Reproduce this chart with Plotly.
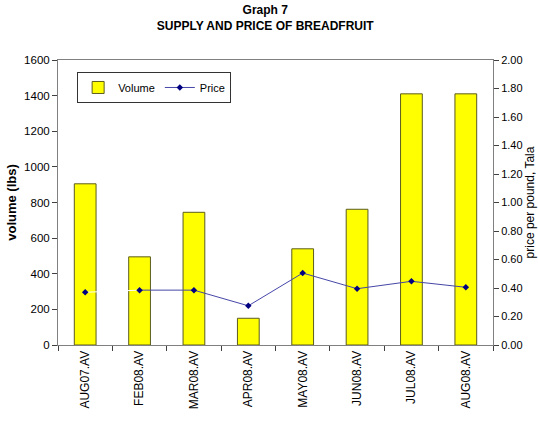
import plotly.graph_objects as go

categories = ["AUG07.AV", "FEB08.AV", "MAR08.AV", "APR08.AV", "MAY08.AV", "JUN08.AV", "JUL08.AV", "AUG08.AV"]
volume = [905, 495, 745, 150, 540, 762, 1410, 1410]
price = [0.37, 0.385, 0.385, 0.275, 0.505, 0.395, 0.447, 0.405]
vol_ticks = list(range(0, 1601, 200))
price_ticks = [i / 5 for i in range(0, 11)]

FONT = "Liberation Sans, Arial, sans-serif"

fig = go.Figure()
fig.add_trace(go.Bar(
    x=categories, y=volume, name="Volume",
    marker=dict(color="#FFFF00", line=dict(color="#5c5c1f", width=1)),
    yaxis="y",
))
# faint first segment (appears white in the original)
fig.add_trace(go.Scatter(
    x=categories[:2], y=price[:2], mode="lines",
    line=dict(color="#ffffff", width=1), showlegend=False, hoverinfo="skip",
    yaxis="y2",
))
fig.add_trace(go.Scatter(
    x=categories[1:], y=price[1:], mode="lines+markers", name="Price",
    line=dict(color="#4646a8", width=1),
    marker=dict(symbol="diamond", size=5, color="#000080"),
    yaxis="y2",
))
fig.add_trace(go.Scatter(
    x=categories[:1], y=price[:1], mode="markers",
    marker=dict(symbol="diamond", size=5, color="#000080"),
    showlegend=False, yaxis="y2",
))

fig.update_layout(
    width=538, height=426,
    margin=dict(l=58, r=45, t=60, b=81),
    paper_bgcolor="white", plot_bgcolor="white",
    font=dict(family=FONT, size=11, color="black"),
    title=dict(
        text="<b>Graph 7<br>SUPPLY AND PRICE OF BREADFRUIT</b>",
        x=0.493, xanchor="center", y=0.967, yanchor="top",
        font=dict(family=FONT, size=12, color="black"),
    ),
    bargap=0.6,
    showlegend=True,
    legend=dict(
        orientation="h", x=0.044, y=0.958, xanchor="left", yanchor="top",
        bordercolor="#333333", borderwidth=1, bgcolor="white",
        font=dict(family=FONT, size=11), itemwidth=30,
    ),
    xaxis=dict(
        type="category", showline=True, linecolor="#808080", linewidth=1, mirror=True,
        ticks="outside", tickson="boundaries", ticklen=5, tickcolor="#404040",
        tickangle=-90, tickfont=dict(size=12), showgrid=False, automargin=False,
    ),
    yaxis=dict(
        range=[0, 1600], tickvals=vol_ticks, showline=True, linecolor="#808080",
        ticks="outside", ticklen=5, tickcolor="#404040", showgrid=False, zeroline=False,
        title=dict(text="<b>volume (lbs)</b>", font=dict(size=13), standoff=4),
        tickfont=dict(size=11.5), automargin=False,
    ),
    yaxis2=dict(
        range=[0, 2], tickvals=price_ticks, tickformat=".2f", overlaying="y", side="right",
        showline=True, linecolor="#808080", ticks="outside", ticklen=5, tickcolor="#404040",
        showgrid=False, zeroline=False,
        title=dict(text="price per pound, Tala", font=dict(size=12), standoff=2),
        tickfont=dict(size=11), automargin=False,
    ),
)

fig.write_html("out.html", config={"displayModeBar": False},
               post_script="document.body.style.margin='0';")
